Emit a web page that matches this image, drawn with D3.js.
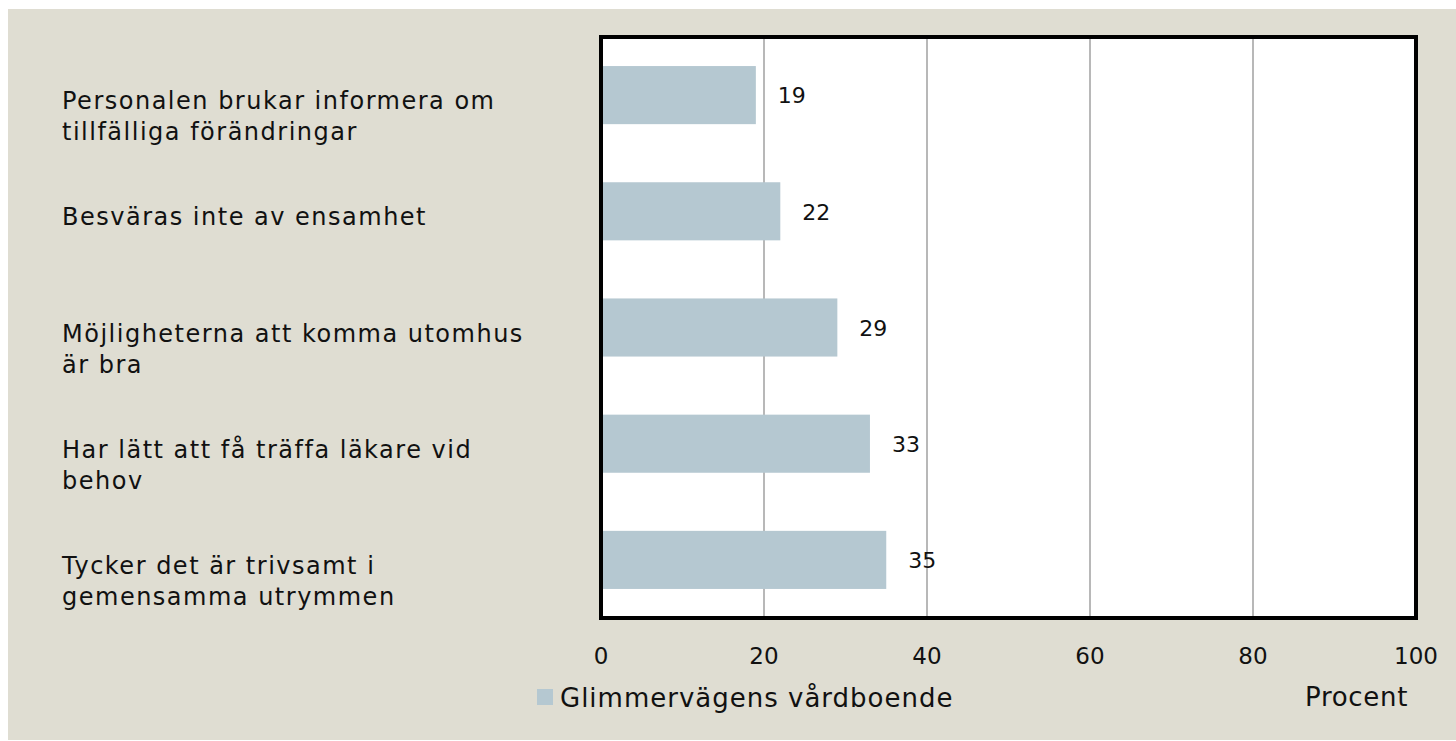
<!DOCTYPE html>
<meta charset="utf-8">
<style>
  body { margin: 0; background: #fff; }
  svg text { font-family: "DejaVu Sans", sans-serif; fill: #111; }
  .grid line { stroke: #a0a0a0; stroke-width: 1.5px; }
</style>
<body>
<svg id="chart" width="1456" height="741"></svg>
<script src="https://cdn.jsdelivr.net/npm/d3@7"></script>
<script>
  // data
  var categories = [
    ["Personalen brukar informera om", "tillfälliga förändringar"],
    ["Besväras inte av ensamhet"],
    ["Möjligheterna att komma utomhus", "är bra"],
    ["Har lätt att få träffa läkare vid", "behov"],
    ["Tycker det är trivsamt i", "gemensamma utrymmen"]
  ];
  var values = [19, 22, 29, 33, 35];
  var xTicks = [0, 20, 40, 60, 80, 100];
  var seriesName = "Glimmervägens vårdboende";
  var axisTitle = "Procent";

  var plot = { left: 601, right: 1416, top: 37, bottom: 618 };
  var barColor = "#b5c8d1";

  var svg = d3.select("#chart");

  // beige panel
  svg.append("rect")
    .attr("x", 8).attr("y", 9)
    .attr("width", 1448).attr("height", 731)
    .attr("fill", "#dfddd2");

  var x = d3.scaleLinear().domain([0, 100]).range([plot.left, plot.right]);
  var y = d3.scaleBand().domain(d3.range(values.length))
    .range([plot.top, plot.bottom]).paddingInner(0.5).paddingOuter(0.25);

  svg.append("rect")
    .attr("x", plot.left).attr("y", plot.top)
    .attr("width", plot.right - plot.left).attr("height", plot.bottom - plot.top)
    .attr("fill", "#fff");

  // vertical grid
  svg.append("g").attr("class", "grid")
    .selectAll("line")
    .data(xTicks.slice(1, -1))
    .join("line")
    .attr("x1", d => x(d)).attr("x2", d => x(d))
    .attr("y1", plot.top).attr("y2", plot.bottom);

  // bars
  svg.append("g")
    .selectAll("rect")
    .data(values)
    .join("rect")
    .attr("x", x(0))
    .attr("y", (d, i) => y(i))
    .attr("width", d => x(d) - x(0))
    .attr("height", y.bandwidth())
    .attr("fill", barColor);

  // value labels
  svg.append("g")
    .selectAll("text")
    .data(values)
    .join("text")
    .attr("x", d => x(d) + 22)
    .attr("y", (d, i) => y(i) + y.bandwidth() / 2)
    .attr("dy", "0.38em")
    .style("font-size", "22px")
    .text(d => d);

  // frame
  svg.append("rect")
    .attr("x", plot.left).attr("y", plot.top)
    .attr("width", plot.right - plot.left).attr("height", plot.bottom - plot.top)
    .attr("fill", "none")
    .attr("stroke", "#000")
    .attr("stroke-width", 4);

  // x axis tick labels
  svg.append("g")
    .selectAll("text")
    .data(xTicks)
    .join("text")
    .attr("x", d => x(d))
    .attr("y", 664)
    .attr("text-anchor", "middle")
    .style("font-size", "23px")
    .text(d => d);

  // category labels
  var cat = svg.append("g")
    .selectAll("text")
    .data(categories)
    .join("text")
    .attr("x", 62)
    .attr("y", (d, i) => y(i) + y.bandwidth() / 2 + 14)
    .style("font-size", "24px")
    .style("letter-spacing", "1.5px");
  cat.selectAll("tspan")
    .data(d => d)
    .join("tspan")
    .attr("x", 62)
    .attr("dy", (d, i) => i ? 31 : 0)
    .text(d => d);

  // legend
  svg.append("rect")
    .attr("x", 537).attr("y", 689)
    .attr("width", 16).attr("height", 16)
    .attr("fill", barColor);
  svg.append("text")
    .attr("x", 560).attr("y", 707)
    .style("font-size", "26px")
    .style("letter-spacing", "1px")
    .text(seriesName);

  svg.append("text")
    .attr("x", 1305).attr("y", 706)
    .style("font-size", "26px")
    .style("letter-spacing", "0.7px")
    .text(axisTitle);
</script>
</body>
